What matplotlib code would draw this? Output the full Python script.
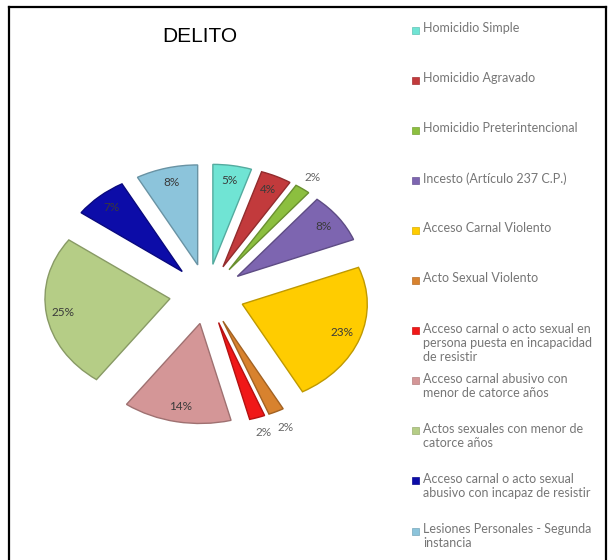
import matplotlib.pyplot as plt
import numpy as np
from matplotlib.colors import to_rgb
from matplotlib.lines import Line2D
from matplotlib.patches import Rectangle

# figure size in pixels
W, H = 611, 560

categories = [
    'Homicidio Simple',
    'Homicidio Agravado',
    'Homicidio Preterintencional',
    'Incesto (Artículo 237 C.P.)',
    'Acceso Carnal Violento',
    'Acto Sexual Violento',
    'Acceso carnal o acto sexual en\npersona puesta en incapacidad\nde resistir',
    'Acceso carnal abusivo con\nmenor de catorce años',
    'Actos sexuales con menor de\ncatorce años',
    'Acceso carnal o acto sexual\nabusivo con incapaz de resistir',
    'Lesiones Personales - Segunda\ninstancia',
]
values = [5, 4, 2, 8, 23, 2, 2, 14, 25, 7, 8]
colors = ['#70E4D4', '#C23A3C', '#8CBF3F', '#7D65B0', '#FFCC00', '#D8822E',
          '#F01818', '#D49697', '#B5CD86', '#0C0CA8', '#8CC4DB']


def darker(c, f=0.75):
    r, g, b = to_rgb(c)
    return (r * f, g * f, b * f)


def fig_xy(x, y):
    # pixel position (from top-left) -> figure fraction
    return x / W, 1 - y / H


fig = plt.figure(figsize=(W / 100, H / 100), dpi=100)

# pie axes, stretched so the pie comes out a bit wider than tall
ax = fig.add_axes([7 / W, (H - 454) / H, 400 / W, 320 / H])
wedges, _ = ax.pie(values, colors=colors, startangle=90, counterclock=False,
                   explode=[0.3] * len(values),
                   wedgeprops=dict(linewidth=1.0))
for w, c in zip(wedges, colors):
    w.set_edgecolor(darker(c))
ax.set_aspect('auto')
ax.set_xlim(-1.6, 1.6)
ax.set_ylim(-1.6, 1.6)
ax.axis('off')

# percentage labels, small slices get theirs outside
label_dist = [0.85, 0.85, 1.14, 0.85, 0.85, 1.18, 1.16, 0.85, 0.87, 0.85, 0.85]
for w, v, d in zip(wedges, values, label_dist):
    ang = np.deg2rad((w.theta1 + w.theta2) / 2)
    x = w.center[0] + d * w.r * np.cos(ang)
    y = w.center[1] + d * w.r * np.sin(ang)
    col = '#3a3a3a' if d < 1 else '#666666'
    ax.text(x, y, f'{v}%', ha='center', va='center', fontsize=8.5,
            family='Lato', color=col)

# title
fig.text(*fig_xy(200, 37), 'DELITO', ha='center', va='center',
         fontsize=15, family='Liberation Sans', color='black')

# legend drawn by hand, one entry every ~50 px
for i, (lab, c) in enumerate(zip(categories, colors)):
    y = 30 + 50.1 * i
    fx, fy = fig_xy(412, y + 3.5)
    fig.add_artist(Rectangle((fx, fy), 7 / W, 7 / H, transform=fig.transFigure,
                             facecolor=c, edgecolor=darker(c, 0.85), linewidth=0.5))
    fig.text(*fig_xy(423, y - 8), lab, ha='left', va='top', fontsize=9,
             family='Lato', color='#767676', linespacing=1.2)

# frame (no bottom edge visible)
for xs, ys in [((9, 9), (7, 560)), ((9, 606), (7, 7)), ((606, 606), (7, 560))]:
    fig.add_artist(Line2D([x / W for x in xs], [1 - y / H for y in ys],
                          transform=fig.transFigure, color='black', linewidth=1.6))

fig.savefig('out.png', dpi=100)
